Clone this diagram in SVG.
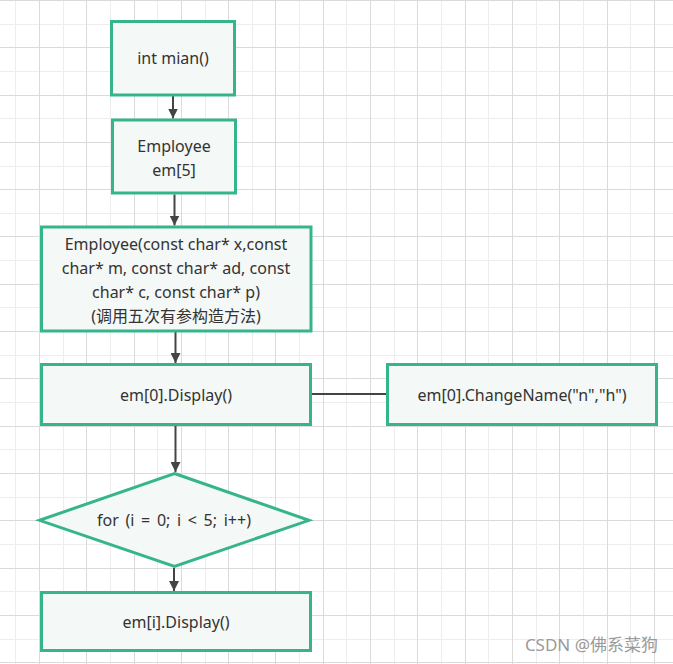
<svg xmlns="http://www.w3.org/2000/svg" width="673" height="664" viewBox="0 0 673 664">
<style>
.box{fill:#f4f8f6;stroke:#36b58d;stroke-width:3}
.t{font-family:"Noto Sans","Noto Sans CJK SC",sans-serif;font-size:16px;fill:#333;text-anchor:middle}
.c{stroke:#444;stroke-width:2;fill:none}
.gmin{stroke:#ededed;stroke-width:1;fill:none}
.gmaj{stroke:#dadada;stroke-width:1;fill:none}
.wm{font-family:"Noto Sans","Noto Sans CJK SC",sans-serif;font-size:17px;fill:#9a9a9a;text-anchor:end}
</style>
<defs>
<marker id="arr" viewBox="0 0 10 10" refX="10" refY="5" markerWidth="10" markerHeight="10" markerUnits="userSpaceOnUse" orient="auto">
<path d="M0,0 L10,5 L0,10 z" fill="#444"/>
</marker>
</defs>
<rect width="673" height="664" fill="#fff"/>
<g id="grid">
<path class="gmin" d="M15.5,0V664M63.5,0V664M110.5,0V664M157.5,0V664M205.5,0V664M252.5,0V664M299.5,0V664M346.5,0V664M394.5,0V664M441.5,0V664M488.5,0V664M536.5,0V664M583.5,0V664M630.5,0V664M0,24.5H673M0,71.5H673M0,118.5H673M0,166.5H673M0,213.5H673M0,260.5H673M0,307.5H673M0,355.5H673M0,402.5H673M0,449.5H673M0,497.5H673M0,544.5H673M0,591.5H673M0,639.5H673"/>
<path class="gmaj" d="M39.5,0V664M86.5,0V664M134.5,0V664M181.5,0V664M228.5,0V664M275.5,0V664M323.5,0V664M370.5,0V664M417.5,0V664M465.5,0V664M512.5,0V664M559.5,0V664M607.5,0V664M654.5,0V664M0,0.5H673M0,47.5H673M0,95.5H673M0,142.5H673M0,189.5H673M0,236.5H673M0,284.5H673M0,331.5H673M0,378.5H673M0,426.5H673M0,473.5H673M0,520.5H673M0,568.5H673M0,615.5H673M0,662.5H673"/>
</g>
<g id="connectors">
<line class="c" x1="173" y1="96" x2="173" y2="118.5" marker-end="url(#arr)"/>
<line class="c" x1="174.5" y1="194.5" x2="174.5" y2="225.5" marker-end="url(#arr)"/>
<line class="c" x1="175.5" y1="332" x2="175.5" y2="363" marker-end="url(#arr)"/>
<line class="c" x1="175.5" y1="426" x2="175.5" y2="472" marker-end="url(#arr)"/>
<line class="c" x1="174" y1="568" x2="174" y2="591" marker-end="url(#arr)"/>
<line class="c" x1="312" y1="394" x2="386" y2="394" stroke="#555"/>
</g>
<g id="n1">
<rect class="box" x="111.5" y="21.5" width="123" height="73.5"/>
<text class="t" x="173" y="63.5">int mian()</text>
</g>
<g id="n2">
<rect class="box" x="112.5" y="120" width="123" height="73"/>
<text class="t" x="174" y="151.5">Employee</text>
<text class="t" x="174" y="175.5">em[5]</text>
</g>
<g id="n3">
<rect class="box" x="41.5" y="227" width="269.5" height="104"/>
<text class="t" x="176" y="250">Employee(const char* x,const</text>
<text class="t" x="176" y="274">char* m, const char* ad, const</text>
<text class="t" x="176" y="297.5">char* c, const char* p)</text>
<text class="t" x="176" y="321.5">(调用五次有参构造方法)</text>
</g>
<g id="n4">
<rect class="box" x="41.5" y="364.5" width="269" height="60"/>
<text class="t" x="176" y="400.5">em[0].Display()</text>
</g>
<g id="n5">
<rect class="box" x="387.5" y="364.5" width="269" height="60"/>
<text class="t" x="522" y="400.5">em[0].ChangeName("n","h")</text>
</g>
<g id="n6">
<path class="box" d="M174.5,473.5 L309,520.3 L174.5,566.5 L39.5,520.3 Z"/>
<text class="t" x="174" y="526" word-spacing="2.5">for (i = 0; i &lt; 5; i++)</text>
</g>
<g id="n7">
<rect class="box" x="41.5" y="592.5" width="269" height="58"/>
<text class="t" x="176" y="628">em[i].Display()</text>
</g>
<text class="wm" x="658" y="651">CSDN @佛系菜狗</text>
</svg>
